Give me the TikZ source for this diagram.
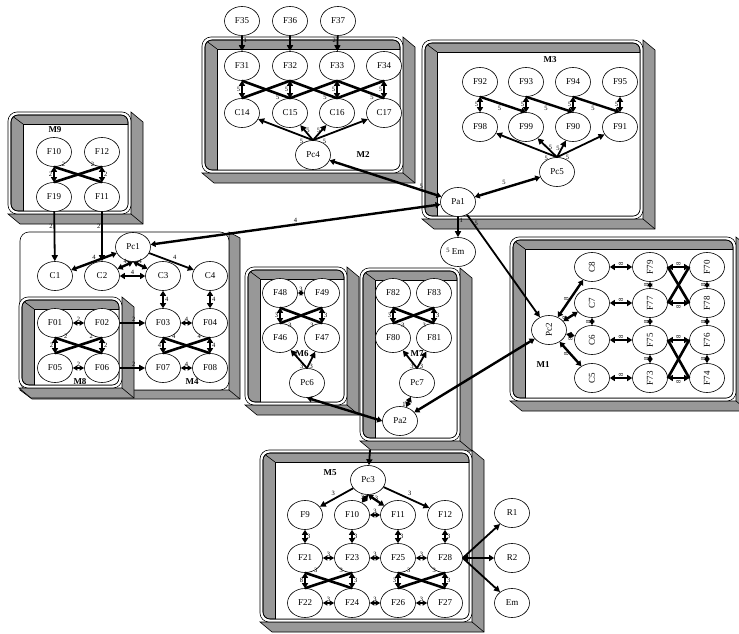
\documentclass[tikz,border=0pt]{standalone}
\usepackage{fontspec}
\setmainfont{Liberation Serif}
\usepackage{graphicx}
\usetikzlibrary{shapes.geometric,arrows.meta,calc}
\definecolor{bev}{RGB}{152,152,152}
\newcommand{\rotl}[1]{\rotatebox{90}{#1}}
\newcommand{\modbox}[4]{%
  \filldraw[fill=bev,line width=0.6pt] (#1,#4) -- ({#1+12},{#4+10}) -- ({#3+12},{#4+10}) -- ({#3+12},{#2+10}) -- (#3,#2) -- (#3,#4) -- cycle;
  \draw[line width=0.6pt] (#3,#4) -- ({#3+12},{#4+10});
  \filldraw[fill=white,line width=0.6pt,rounded corners=9pt] (#1,#2) rectangle (#3,#4);
  \filldraw[fill=bev,line width=0.6pt,rounded corners=7pt] ({#1+3},{#2+3}) rectangle ({#3-3},{#4-3});
  \begin{scope}
    \clip[rounded corners=7pt] ({#1+3},{#2+3}) rectangle ({#3-3},{#4-3});
    \filldraw[fill=white,line width=0.6pt] ({#1+15},{#2+12}) rectangle ({#3+5},{#4+5});
    \draw[line width=0.6pt] ({#1+3},{#2+3}) -- ({#1+15},{#2+12});
  \end{scope}
  \draw[line width=0.6pt,rounded corners=7pt] ({#1+3},{#2+3}) rectangle ({#3-3},{#4-3});
}
\newcommand{\plainbox}[4]{%
  \filldraw[fill=bev,line width=0.6pt] (#1,#4) -- ({#1+12},{#4+9}) -- ({#3+11},{#4+9}) -- ({#3+11},{#2+6}) -- (#3,#2) -- (#3,#4) -- cycle;
  \draw[line width=0.6pt] (#3,#4) -- ({#3+11},{#4+9});
  \filldraw[fill=white,line width=0.6pt,rounded corners=9pt] (#1,#2) rectangle (#3,#4);
}
\begin{document}
\begin{tikzpicture}[x=1pt,y=-1pt,
  nd/.style={ellipse,draw,fill=white,minimum width=35pt,minimum height=29pt,inner sep=0pt,line width=0.6pt,font=\fontsize{9}{9}\selectfont},
  ar/.style={line width=1.8pt,-{Triangle[length=6pt,width=6pt]}},
  da/.style={line width=2.4pt,{Triangle[length=5pt,width=6pt]}-{Triangle[length=5pt,width=6pt]}},
  dt/.style={line width=1.5pt,{Triangle[length=4.5pt,width=5pt]}-{Triangle[length=4.5pt,width=5pt]}},
  bw/.style={line width=2.6pt},
  bwa/.style={line width=2.4pt,-{Triangle[length=5pt,width=6pt]}},
  lb/.style={font=\fontsize{6.5}{6.5}\selectfont,inner sep=0.8pt},
  ml/.style={font=\bfseries\fontsize{9}{9}\selectfont}]
\useasboundingbox (0,0) rectangle (739,634);
% ---------- module frames ----------
\plainbox{20}{232}{229}{390}
\modbox{8}{112}{131}{214}
\modbox{19}{297}{122}{388}
\modbox{202}{37}{403}{173}
\modbox{422}{40}{643}{219}
\modbox{245}{267}{347}{405}
\modbox{360}{268}{460}{441}
\modbox{510}{237}{736}{401}
\modbox{260}{450}{472}{622}
% ---------- module labels ----------
\node[ml] (lM2) at (363,155) {M2};
\node[ml] (lM3) at (550,60) {M3};
\node[ml] (lM9) at (55,130) {M9};
\node[ml] (lM8) at (80,382) {M8};
\node[ml] (lM4) at (192,382) {M4};
\node[ml] (lM6) at (302,354) {M6};
\node[ml] (lM7) at (417,354) {M7};
\node[ml] (lM1) at (543,365) {M1};
\node[ml] (lM5) at (330,473) {M5};
% ---------- nodes M2 ----------
\node[nd] (F35) at (242,21) {F35};
\node[nd] (F36) at (290,21) {F36};
\node[nd] (F37) at (338,21) {F37};
\node[nd] (F31) at (242,66) {F31};
\node[nd] (F32) at (290,66) {F32};
\node[nd] (F33) at (337,66) {F33};
\node[nd] (F34) at (384,66) {F34};
\node[nd] (C14) at (242,113) {C14};
\node[nd] (C15) at (290,113) {C15};
\node[nd] (C16) at (337,113) {C16};
\node[nd] (C17) at (384,113) {C17};
\node[nd] (Pc4) at (313,155) {Pc4};
% ---------- nodes M3 ----------
\node[nd] (F92) at (480,82) {F92};
\node[nd] (F93) at (526,82) {F93};
\node[nd] (F94) at (573,82) {F94};
\node[nd] (F95) at (620,82) {F95};
\node[nd] (F98) at (480,127) {F98};
\node[nd] (F99) at (526,127) {F99};
\node[nd] (F90) at (573,127) {F90};
\node[nd] (F91) at (620,127) {F91};
\node[nd] (Pc5) at (557,172) {Pc5};
\node[nd] (Pa1) at (458,202) {Pa1};
\node[nd] (Em) at (458,252) {Em};
% ---------- nodes M9 ----------
\node[nd] (F10a) at (54,152) {F10};
\node[nd] (F12a) at (102,152) {F12};
\node[nd] (F19) at (54,197) {F19};
\node[nd] (F11a) at (102,197) {F11};
% ---------- container ----------
\node[nd] (Pc1) at (133,247) {Pc1};
\node[nd] (C1) at (55,276) {C1};
\node[nd] (C2) at (102,276) {C2};
\node[nd] (C3) at (163,276) {C3};
\node[nd] (C4) at (210,276) {C4};
% ---------- M8 / M4 ----------
\node[nd] (F01) at (55,323) {F01};
\node[nd] (F02) at (102,323) {F02};
\node[nd] (F05) at (55,368) {F05};
\node[nd] (F06) at (102,368) {F06};
\node[nd] (F03) at (163,323) {F03};
\node[nd] (F04) at (210,323) {F04};
\node[nd] (F07) at (163,368) {F07};
\node[nd] (F08) at (210,368) {F08};
% ---------- M6 / M7 ----------
\node[nd] (F48) at (280,293) {F48};
\node[nd] (F49) at (322,293) {F49};
\node[nd] (F46) at (280,338) {F46};
\node[nd] (F47) at (322,338) {F47};
\node[nd] (Pc6) at (307,383) {Pc6};
\node[nd] (F82) at (393,293) {F82};
\node[nd] (F83) at (434,293) {F83};
\node[nd] (F80) at (393,338) {F80};
\node[nd] (F81) at (434,338) {F81};
\node[nd] (Pc7) at (417,383) {Pc7};
\node[nd] (Pa2) at (400,421) {Pa2};
% ---------- M1 ----------
\node[nd] (Pc2) at (549,330) {\rotl{Pc2}};
\node[nd] (C8) at (592,267) {\rotl{C8}};
\node[nd] (C7) at (592,303) {\rotl{C7}};
\node[nd] (C6) at (592,340) {\rotl{C6}};
\node[nd] (C5) at (592,378) {\rotl{C5}};
\node[nd] (F79) at (650,267) {\rotl{F79}};
\node[nd] (F77) at (650,303) {\rotl{F77}};
\node[nd] (F75) at (650,340) {\rotl{F75}};
\node[nd] (F73) at (650,378) {\rotl{F73}};
\node[nd] (F70) at (707,267) {\rotl{F70}};
\node[nd] (F78) at (707,303) {\rotl{F78}};
\node[nd] (F76) at (707,340) {\rotl{F76}};
\node[nd] (F74) at (707,378) {\rotl{F74}};
% ---------- M5 ----------
\node[nd] (Pc3) at (368,480) {Pc3};
\node[nd] (F9) at (305,515) {F9};
\node[nd] (F10b) at (352,515) {F10};
\node[nd] (F11b) at (398,515) {F11};
\node[nd] (F12b) at (445,515) {F12};
\node[nd] (F21) at (305,558) {F21};
\node[nd] (F23) at (352,558) {F23};
\node[nd] (F25) at (398,558) {F25};
\node[nd] (F28) at (445,558) {F28};
\node[nd] (F22) at (305,603) {F22};
\node[nd] (F24) at (352,603) {F24};
\node[nd] (F26) at (398,603) {F26};
\node[nd] (F27) at (445,603) {F27};
\node[nd] (R1) at (512,513) {R1};
\node[nd] (R2) at (512,558) {R2};
\node[nd] (Em2) at (512,603) {Em};
% ---------- edges M2 ----------
\draw[ar] (F35) -- (F31) node[lb,pos=0.3,right]{1};
\draw[ar] (F36) -- (F32);
\draw[ar] (F37) -- (F33) node[lb,pos=0.3,left]{2};
\foreach \a/\b in {F31/C14,F32/C15,F33/C16,F34/C17}
  \draw[da] (\a) -- (\b) node[lb,midway,left]{5};
\foreach \a/\b in {F31/C15,F32/C14,F32/C16,F33/C15,F33/C17,F34/C16}
  \draw[bw] (\a.south) -- (\b.north);
\foreach \a/\b in {F31/C15,F32/C16,F33/C17}
  \path (\a.south) -- (\b.north) node[lb,pos=0.8,below left]{5};
\draw[ar] (Pc4.north) -- (C14) node[lb,pos=0.15,below left]{5};
\draw[ar] (Pc4.north) -- (C15) node[lb,pos=0.65,right]{5};
\draw[ar] (Pc4.north) -- (C16) node[lb,pos=0.65,left]{5};
\draw[ar] (Pc4.north) -- (C17) node[lb,pos=0.15,below right]{5};
% ---------- edges M3 ----------
\foreach \a/\b in {F92/F98,F93/F99,F94/F90,F95/F91}
  \draw[da] (\a) -- (\b) node[lb,midway,left]{5};
\foreach \a/\b in {F92/F99,F93/F90,F94/F91}
  \draw[bwa] (\a.south) -- (\b.north) node[lb,midway,below left]{5};
\draw[ar] (Pc5.north) -- (F98) node[lb,pos=0.12,below left]{5};
\draw[ar] (Pc5.north) -- (F99) node[lb,pos=0.5,right]{5};
\draw[ar] (Pc5.north) -- (F90) node[lb,pos=0.5,left]{5};
\draw[ar] (Pc5.north) -- (F91) node[lb,pos=0.15,below right]{5};
\draw[da] (Pa1) -- (Pc5) node[lb,midway,above left]{5};
% ---------- cross edges ----------
\draw[da] (Pc4) -- (Pa1) node[lb,pos=0.82,above]{5};
\draw[da] (Pc1) -- (Pa1) node[lb,pos=0.5,above]{4};
\draw[ar] (Pa1) -- (Em) node[lb,pos=0.15,right]{1};
\node[lb] (em5) at (448,250) {5};
\draw[ar] (Pa1) -- (Pc2) node[lb,pos=0.08,right]{5};
\draw[da] (Pc2) -- (Pa2);
\draw[da] (Pc6.south) -- (Pa2.west);
\coordinate (inP) at (370,450);
\draw[ar] (inP) -- (Pc3);
% ---------- edges M9 ----------
\draw[da] (F10a) -- (F19) node[lb,midway,left]{2};
\draw[da] (F12a) -- (F11a) node[lb,midway,right]{2};
\draw[bw] (F10a.south) -- (F11a.north) node[lb,pos=0.12,above right]{2};
\draw[bw] (F12a.south) -- (F19.north) node[lb,pos=0.12,above left]{2};
\draw[ar] (F19) -- (C1) node[lb,pos=0.3,left]{2};
\draw[ar] (F11a) -- (C2) node[lb,pos=0.3,left]{2};
% ---------- container ----------
\draw[da] (Pc1) -- (C1) node[lb,midway,above]{4};
\draw[ar] (Pc1) -- (C4) node[lb,midway,above right]{4};
\draw[da] (Pc1.south) -- (C2) node[lb,midway,above]{4};
\draw[da] (Pc1.south) -- (C3) node[lb,midway,above]{4};
\draw[da] (C2) -- (C3) node[lb,midway,above]{4};
\draw[da] (C3) -- (F03) node[lb,midway,right]{4};
\draw[da] (C4) -- (F04) node[lb,midway,right]{4};
\draw[ar] (F02) -- (F03) node[lb,pos=0.55,above]{2};
\draw[ar] (F06) -- (F07) node[lb,pos=0.55,above]{2};
% ---------- M4 ----------
\draw[dt] (F03) -- (F04) node[lb,midway,above]{4};
\draw[dt] (F07) -- (F08) node[lb,midway,above]{4};
\draw[da] (F03) -- (F07) node[lb,midway,left]{4};
\draw[da] (F04) -- (F08) node[lb,midway,right]{4};
\draw[bw] (F03.south) -- (F08.north) node[lb,pos=0.15,above right]{4};
\draw[bw] (F04.south) -- (F07.north) node[lb,pos=0.15,above left]{4};
% ---------- M8 ----------
\draw[dt] (F01) -- (F02) node[lb,midway,above]{2};
\draw[dt] (F05) -- (F06) node[lb,midway,above]{2};
\draw[da] (F01) -- (F05) node[lb,midway,left]{2};
\draw[da] (F02) -- (F06) node[lb,midway,right]{2};
\draw[bw] (F01.south) -- (F06.north) node[lb,pos=0.15,above right]{2};
\draw[bw] (F02.south) -- (F05.north) node[lb,pos=0.15,above left]{2};
% ---------- M6 ----------
\draw[dt] (F48) -- (F49) node[lb,midway,above]{3};
\draw[da] (F48) -- (F46) node[lb,midway,left]{3};
\draw[da] (F49) -- (F47) node[lb,midway,right]{3};
\draw[bw] (F48.south) -- (F47.north) node[lb,pos=0.85,below left]{3};
\draw[bw] (F49.south) -- (F46.north) node[lb,pos=0.85,below right]{3};
\draw[ar] (Pc6.north) -- (F46) node[lb,pos=0.12,left]{3};
\draw[ar] (Pc6.north) -- (F47) node[lb,pos=0.12,right]{3};
% ---------- M7 ----------
\draw[da] (F82) -- (F80) node[lb,midway,left]{3};
\draw[da] (F83) -- (F81) node[lb,midway,right]{3};
\draw[bw] (F82.south) -- (F81.north) node[lb,pos=0.85,below left]{3};
\draw[bw] (F83.south) -- (F80.north) node[lb,pos=0.85,below right]{3};
\draw[ar] (Pc7.north) -- (F80) node[lb,pos=0.12,left]{3};
\draw[ar] (Pc7.north) -- (F81) node[lb,pos=0.12,right]{3};
\draw[da] (Pc7) -- (Pa2) node[lb,pos=0.7,left]{1};
% ---------- M1 ----------
\draw[da] (Pc2) -- (C8) node[lb,midway,left]{\rotl{8}};
\draw[da] (Pc2) -- (C7) node[lb,pos=0.4,left]{\rotl{8}};
\draw[da] (Pc2) -- (C6) node[lb,pos=0.5,below]{\rotl{8}};
\draw[da] (Pc2) -- (C5) node[lb,midway,left]{\rotl{8}};
\foreach \a/\b in {C8/F79,C7/F77,C6/F75,C5/F73}
  \draw[da] (\a) -- (\b) node[lb,midway,above]{\rotl{8}};
\foreach \a/\b in {C7/C6,F79/F77,F77/F75,F75/F73,F70/F78,F78/F76,F76/F74}
  \draw[dt] (\a) -- (\b) node[lb,midway,left]{\rotl{8}};
\draw[da] (F79) -- (F70) node[lb,midway,above]{\rotl{8}};
\draw[da] (F77) -- (F78) node[lb,midway,below]{\rotl{8}};
\draw[bw] (F79.east) -- (F78.west);
\draw[bw] (F77.east) -- (F70.west);
\draw[da] (F75) -- (F76) node[lb,midway,above]{\rotl{8}};
\draw[da] (F73) -- (F74) node[lb,midway,below]{\rotl{8}};
\draw[bw] (F75.east) -- (F74.west);
\draw[bw] (F73.east) -- (F76.west);
% ---------- M5 ----------
\draw[ar] (Pc3) -- (F9) node[lb,midway,above left]{3};
\draw[ar] (Pc3) -- (F12b) node[lb,midway,above right]{3};
\draw[da] (Pc3.south) -- (F10b) node[lb,pos=0.3,left]{3};
\draw[da] (Pc3.south) -- (F11b) node[lb,pos=0.3,right]{3};
\draw[dt] (F10b) -- (F11b) node[lb,midway,above]{3};
\foreach \a/\b in {F9/F21,F10b/F23,F11b/F25,F12b/F28}
  \draw[da] (\a) -- (\b) node[lb,midway,right]{3};
\foreach \a/\b in {F21/F23,F23/F25,F25/F28,F22/F24,F24/F26,F26/F27}
  \draw[dt] (\a) -- (\b) node[lb,midway,above]{3};
\draw[da] (F21) -- (F22) node[lb,midway,left]{8};
\draw[da] (F23) -- (F24) node[lb,midway,right]{3};
\draw[bw] (F21.south) -- (F24.north) node[lb,pos=0.15,above right]{3};
\draw[bw] (F23.south) -- (F22.north) node[lb,pos=0.15,above left]{3};
\draw[da] (F25) -- (F26) node[lb,midway,left]{3};
\draw[da] (F28) -- (F27) node[lb,midway,right]{3};
\draw[bw] (F25.south) -- (F27.north) node[lb,pos=0.15,above right]{3};
\draw[bw] (F28.south) -- (F26.north) node[lb,pos=0.15,above left]{3};
\draw[ar] (F28.east) -- (R1);
\draw[da] (F28) -- (R2);
\draw[ar] (F28.east) -- (Em2);
\end{tikzpicture}
\end{document}
